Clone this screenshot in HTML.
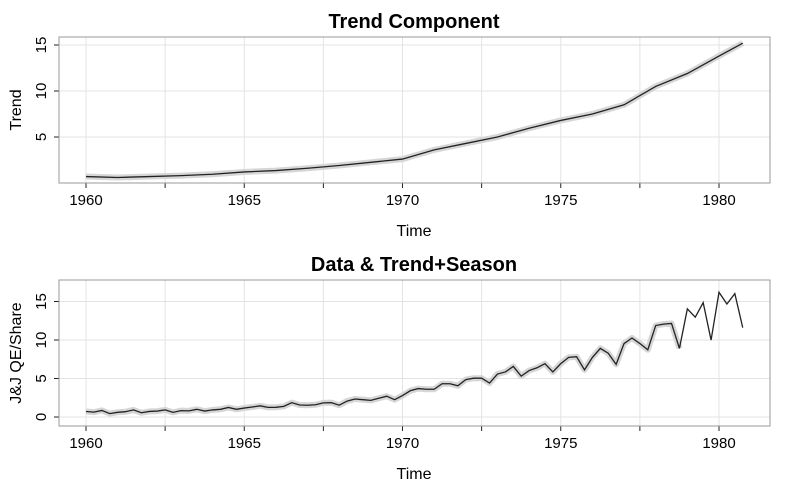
<!DOCTYPE html>
<html><head><meta charset="utf-8"><style>
body{margin:0;background:#fff;}
svg text{font-family:"Liberation Sans",Arial,sans-serif;fill:#000;}
</style></head><body>
<svg id="c" width="787" height="486" xmlns="http://www.w3.org/2000/svg"></svg>
<script>
const jjValues=[0.71,0.63,0.85,0.44,0.61,0.69,0.92,0.55,0.72,0.77,0.92,0.60,0.83,0.80,1.00,0.77,0.92,1.00,1.24,1.00,1.16,1.30,1.45,1.25,1.26,1.38,1.86,1.56,1.53,1.59,1.83,1.86,1.53,2.07,2.34,2.25,2.16,2.43,2.70,2.25,2.79,3.42,3.69,3.60,3.60,4.32,4.32,4.05,4.86,5.04,5.04,4.41,5.58,5.85,6.57,5.31,6.03,6.39,6.93,5.85,6.93,7.74,7.83,6.12,7.74,8.91,8.28,6.84,9.54,10.26,9.54,8.73,11.88,12.06,12.15,8.91,14.04,12.96,14.85,9.99,16.20,14.67,16.02,11.61];
const trendTimes=[1960,1961,1962,1963,1964,1965,1966,1967,1968,1969,1970,1971,1972,1973,1974,1975,1976,1977,1978,1979,1980,1980.75];
const trendValues=[0.7,0.6,0.7,0.8,0.95,1.2,1.35,1.6,1.9,2.25,2.6,3.6,4.3,5.0,5.95,6.8,7.5,8.5,10.5,11.9,13.8,15.2];
const xTicks=[1960,1965,1970,1975,1980];
const yTicksTop=[5,10,15];
const yTicksBot=[0,5,10,15];
const svg=document.getElementById('c');const NS='http://www.w3.org/2000/svg';
function mk(t,a,p){const e=document.createElementNS(NS,t);for(const k in a)e.setAttribute(k,a[k]);(p||svg).appendChild(e);return e;}
const X=t=>86+(t-1960)*31.65;
function panel(name,top,bot,y,yTicks,title,ylab,ylabX){
  const g=mk('g',{});
  mk('rect',{x:59,y:top,width:711,height:bot-top,fill:'#fff'},g);
  for(let t=1960;t<=1980;t+=2.5){const l=mk('line',{x1:X(t),x2:X(t),y1:top,y2:bot,stroke:'#e3e3e3'},g);
    mk('line',{x1:X(t),x2:X(t),y1:bot,y2:bot+5,stroke:'#222'},g);}
  yTicks.forEach(v=>{mk('line',{x1:59,x2:770,y1:y(v),y2:y(v),stroke:'#e3e3e3'},g);mk('line',{x1:54,x2:59,y1:y(v),y2:y(v),stroke:'#222'},g);
    const tx=mk('text',{x:0,y:0,'font-size':15,'text-anchor':'middle',transform:`translate(${46},${y(v)}) rotate(-90)`},g);tx.textContent=v;});
  xTicks.forEach(t=>{const tx=mk('text',{x:X(t),y:bot+22,'font-size':15,'text-anchor':'middle'},g);tx.textContent=t;});
  mk('rect',{x:59,y:top,width:711,height:bot-top,fill:'none',stroke:'#999'},g);
  const tt=mk('text',{x:414,y:top-9,'font-size':20,'font-weight':'bold','text-anchor':'middle'},g);tt.textContent=title;
  const xl=mk('text',{x:414,y:bot+53,'font-size':16,'text-anchor':'middle'},g);xl.textContent='Time';
  const yl=mk('text',{x:0,y:0,'font-size':16,'text-anchor':'middle',transform:`translate(${ylabX},${(top+bot)/2}) rotate(-90)`},g);yl.textContent=ylab;
  return g;
}
const yT=v=>183-v*9.2;
const g1=panel('trend-panel',37,183,yT,yTicksTop,'Trend Component','Trend',21);
const yB=v=>417-v*7.7;
const g2=panel('data-panel',280,426,yB,yTicksBot,'Data & Trend+Season','J&J QE/Share',21);
let p=trendTimes.map((t,i)=>X(t)+','+yT(trendValues[i])).join(' ');
let e=mk('polyline',{points:p,fill:'none',stroke:'#d6d6d6','stroke-width':6,'stroke-linejoin':'round'},g1);
e=mk('polyline',{points:p,fill:'none',stroke:'#222','stroke-width':1.3},g1);
const pts=jjValues.map((v,i)=>X(1960+i/4)+','+yB(v));
e=mk('polyline',{points:pts.slice(0,76).join(' '),fill:'none',stroke:'#d6d6d6','stroke-width':6,'stroke-linejoin':'round'},g2);
e=mk('polyline',{points:pts.join(' '),fill:'none',stroke:'#222','stroke-width':1.3},g2);
</script>
</body></html>
